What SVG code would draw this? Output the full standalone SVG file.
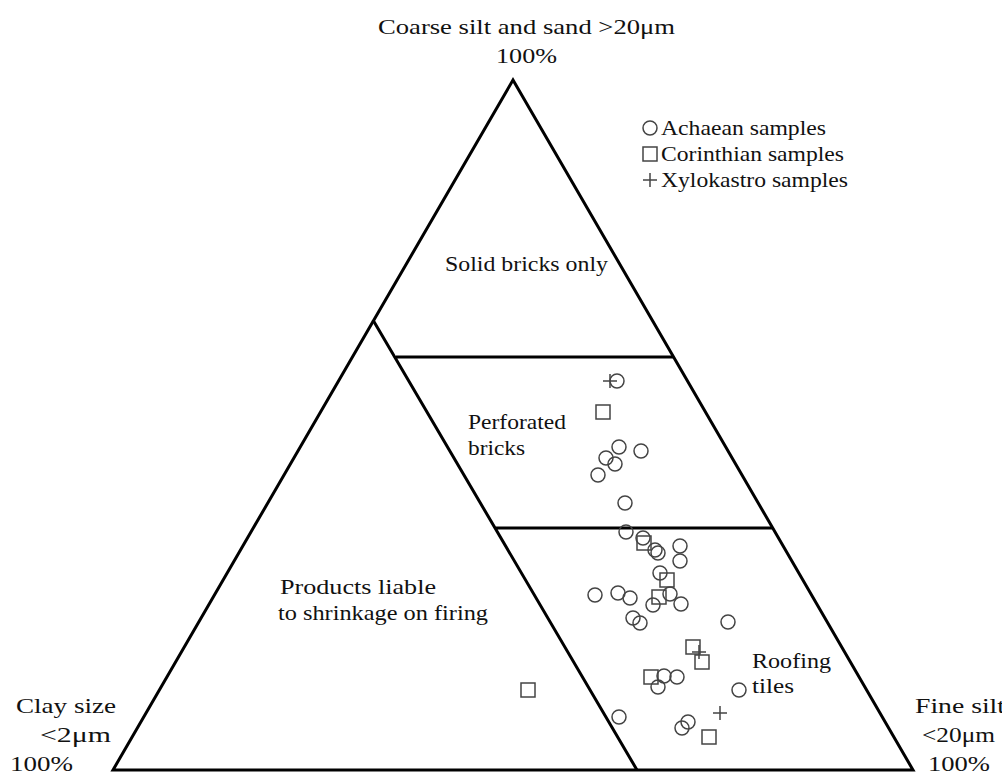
<svg xmlns="http://www.w3.org/2000/svg" width="1002" height="777" viewBox="0 0 1002 777">
<defs><style>
text{font-family:"Liberation Serif",serif;font-size:22px;fill:#111}
.l{stroke:#000;stroke-width:3;fill:none}
.c{fill:none;stroke:#444;stroke-width:1.5}
</style>
<circle id="o" r="7" class="c"/>
<rect id="s" x="-7" y="-7" width="14" height="14" class="c"/>
<path id="p" d="M-7 0H7M0 -7V7" class="c"/>
</defs>
<rect width="1002" height="777" fill="#fff"/>
<g id="frame">
<path class="l" d="M513 80L113 770H913Z"/>
<path class="l" d="M373 320L637 770M396 357H674M495 528H773"/>
</g>
<g id="labels" lengthAdjust="spacingAndGlyphs">
<text x="378" y="34" textLength="297" lengthAdjust="spacingAndGlyphs">Coarse silt and sand &gt;20μm</text>
<text x="496" y="63" textLength="61" lengthAdjust="spacingAndGlyphs">100%</text>
<text x="16" y="713" textLength="100" lengthAdjust="spacingAndGlyphs">Clay size</text>
<text x="40" y="742" textLength="71" lengthAdjust="spacingAndGlyphs">&lt;2μm</text>
<text x="10" y="771" textLength="63" lengthAdjust="spacingAndGlyphs">100%</text>
<text x="915" y="713" textLength="90" lengthAdjust="spacingAndGlyphs">Fine silt</text>
<text x="922" y="742" textLength="73" lengthAdjust="spacingAndGlyphs">&lt;20μm</text>
<text x="928" y="771" textLength="62" lengthAdjust="spacingAndGlyphs">100%</text>
<text x="445" y="271" textLength="163" lengthAdjust="spacingAndGlyphs">Solid bricks only</text>
<text x="468" y="429" textLength="98" lengthAdjust="spacingAndGlyphs">Perforated</text>
<text x="468" y="455" textLength="57" lengthAdjust="spacingAndGlyphs">bricks</text>
<text x="280" y="594" textLength="156" lengthAdjust="spacingAndGlyphs">Products liable</text>
<text x="278" y="620" textLength="210" lengthAdjust="spacingAndGlyphs">to shrinkage on firing</text>
<text x="752" y="668" textLength="79" lengthAdjust="spacingAndGlyphs">Roofing</text>
<text x="752" y="693" textLength="42" lengthAdjust="spacingAndGlyphs">tiles</text>
</g>
<g id="legend">
<use href="#o" x="650" y="128"/><text x="661" y="135" textLength="165" lengthAdjust="spacingAndGlyphs">Achaean samples</text>
<use href="#s" x="650" y="154"/><text x="661" y="161" textLength="183" lengthAdjust="spacingAndGlyphs">Corinthian samples</text>
<use href="#p" x="650" y="180"/><text x="661" y="187" textLength="187" lengthAdjust="spacingAndGlyphs">Xylokastro samples</text>
</g>
<g id="points">
<use href="#o" x="617" y="381"/><use href="#p" x="610" y="381"/>
<use href="#s" x="603" y="412"/>
<use href="#o" x="619" y="447"/><use href="#o" x="641" y="451"/><use href="#o" x="606" y="458"/><use href="#o" x="615" y="464"/><use href="#o" x="598" y="475"/><use href="#o" x="625" y="503"/>
<use href="#o" x="626" y="532"/><use href="#o" x="643" y="538"/><use href="#s" x="644" y="543"/><use href="#o" x="655" y="550"/><use href="#o" x="658" y="553"/><use href="#o" x="680" y="546"/><use href="#o" x="680" y="561"/>
<use href="#o" x="660" y="573"/><use href="#s" x="667" y="580"/>
<use href="#o" x="595" y="595"/><use href="#o" x="618" y="593"/><use href="#o" x="630" y="598"/><use href="#o" x="670" y="594"/><use href="#o" x="681" y="604"/><use href="#o" x="653" y="605"/><use href="#s" x="659" y="597"/>
<use href="#o" x="633" y="618"/><use href="#o" x="640" y="623"/><use href="#o" x="728" y="622"/>
<use href="#s" x="693" y="647"/><use href="#p" x="699" y="652"/><use href="#s" x="702" y="662"/>
<use href="#s" x="651" y="677"/><use href="#o" x="664" y="676"/><use href="#o" x="677" y="677"/><use href="#o" x="658" y="687"/><use href="#o" x="739" y="690"/>
<use href="#s" x="528" y="690"/>
<use href="#o" x="619" y="717"/><use href="#o" x="688" y="722"/><use href="#o" x="682" y="728"/><use href="#p" x="720" y="713"/><use href="#s" x="709" y="737"/>
</g>
</svg>
